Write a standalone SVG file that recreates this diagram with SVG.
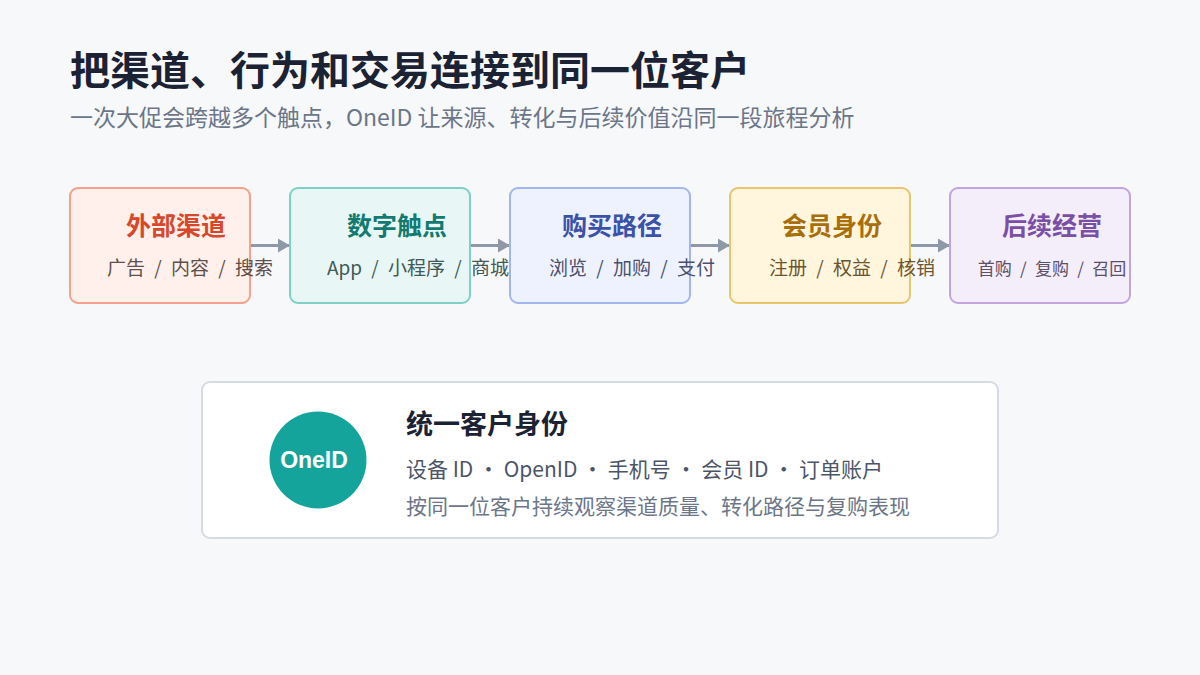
<svg xmlns="http://www.w3.org/2000/svg" width="1200" height="675" viewBox="0 0 1200 675">
<defs>
<style>
text{font-family:"Noto Sans CJK SC","Liberation Sans",sans-serif}
.t{font-size:25px;font-weight:700;text-anchor:middle}
.s{font-size:19px;text-anchor:middle;word-spacing:5px}
.box{stroke-width:2}
.conn{stroke:#8e99a8;stroke-width:3;fill:none}
</style>
<marker id="ah" markerWidth="12" markerHeight="14" refX="12" refY="7" orient="auto" markerUnits="userSpaceOnUse">
<path d="M0,0 L12,7 L0,14 Z" fill="#8e99a8"/>
</marker>
</defs>
<rect width="1200" height="675" fill="#f7f8fa"/>
<text x="70" y="85" font-size="40" font-weight="700" fill="#1a2233">把渠道、行为和交易连接到同一位客户</text>
<text x="70" y="126" font-size="23" fill="#6b7689">一次大促会跨越多个触点，OneID 让来源、转化与后续价值沿同一段旅程分析</text>
<g id="connectors">
<line class="conn" x1="251" y1="245.5" x2="290" y2="245.5" marker-end="url(#ah)"/>
<line class="conn" x1="471" y1="245.5" x2="510" y2="245.5" marker-end="url(#ah)"/>
<line class="conn" x1="691" y1="245.5" x2="730" y2="245.5" marker-end="url(#ah)"/>
<line class="conn" x1="911" y1="245.5" x2="950" y2="245.5" marker-end="url(#ah)"/>
</g>
<g id="node-channel">
<rect class="box" x="70" y="188" width="180" height="115" rx="8" fill="#fff0ec" stroke="#f4a08a"/>
<text class="t" x="176" y="235" fill="#d9472b">外部渠道</text>
<text class="s" x="190" y="275" fill="#5e504c">广告 / 内容 / 搜索</text>
</g>
<g id="node-touch">
<rect class="box" x="290" y="188" width="180" height="115" rx="8" fill="#e8f7f5" stroke="#7fcfc6"/>
<text class="t" x="397" y="235" fill="#127a70">数字触点</text>
<text class="s" x="418" y="275" fill="#3f5a57">App / 小程序 / 商城</text>
</g>
<g id="node-path">
<rect class="box" x="510" y="188" width="180" height="115" rx="8" fill="#eef2fe" stroke="#a3b5ee"/>
<text class="t" x="612" y="235" fill="#3a52a8">购买路径</text>
<text class="s" x="632" y="275" fill="#4a5070">浏览 / 加购 / 支付</text>
</g>
<g id="node-member">
<rect class="box" x="730" y="188" width="180" height="115" rx="8" fill="#fff6dd" stroke="#ebc46c"/>
<text class="t" x="832" y="235" fill="#a86e0a">会员身份</text>
<text class="s" x="852" y="275" fill="#6b5530">注册 / 权益 / 核销</text>
</g>
<g id="node-ops">
<rect class="box" x="950" y="188" width="180" height="115" rx="8" fill="#f4edfa" stroke="#c3a4e0"/>
<text class="t" x="1052" y="235" fill="#7a4fa5">后续经营</text>
<text class="s" x="1052" y="275" fill="#5a5068" style="font-size:17px;word-spacing:4.5px">首购 / 复购 / 召回</text>
</g>
<g id="node-oneid">
<rect x="202" y="382" width="796" height="156" rx="8" fill="#ffffff" stroke="#d5dbe5" stroke-width="2"/>
<circle cx="318" cy="460" r="48.5" fill="#14a49c"/>
<text x="314" y="468" font-size="23" font-weight="700" fill="#ffffff" text-anchor="middle" style="font-family:'Liberation Sans',sans-serif">OneID</text>
<text x="406" y="434" font-size="27" font-weight="700" fill="#1a2233">统一客户身份</text>
<text x="406" y="477" font-size="21" fill="#4b5567">设备 ID · OpenID · 手机号 · 会员 ID · 订单账户</text>
<text x="406" y="514" font-size="21" fill="#6b7689">按同一位客户持续观察渠道质量、转化路径与复购表现</text>
</g>
</svg>
